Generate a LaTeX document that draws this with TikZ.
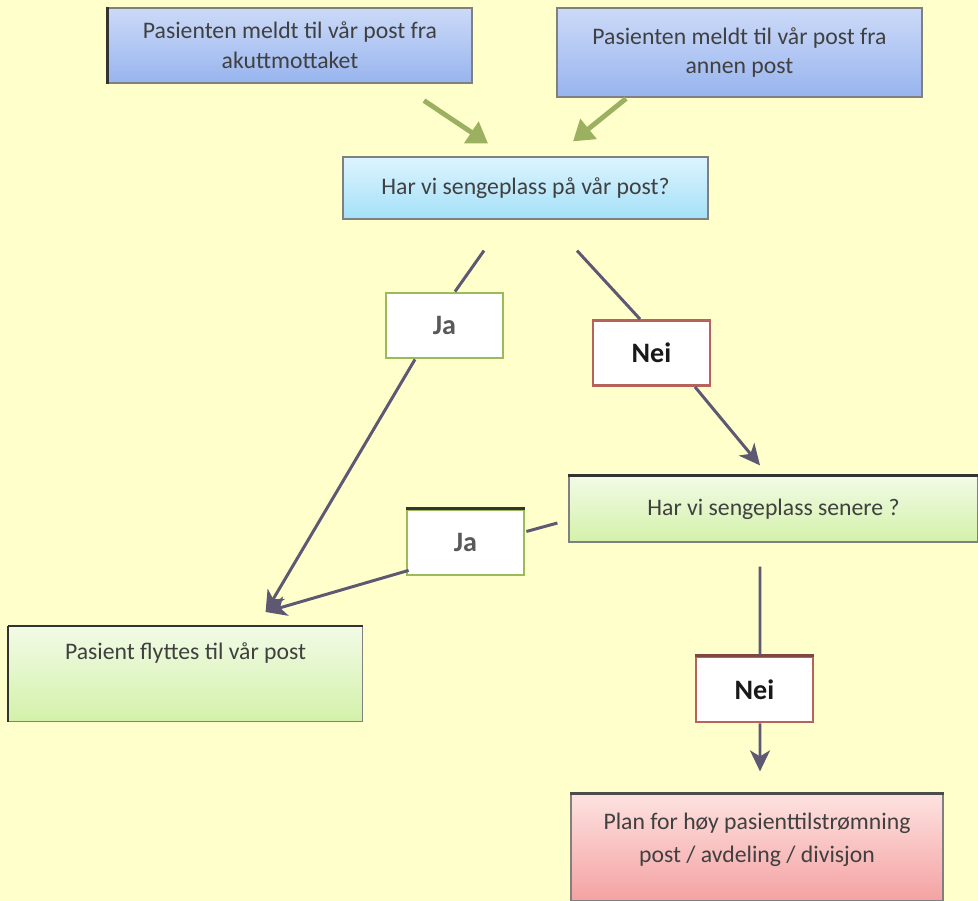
\documentclass[tikz,border=0pt]{standalone}
\usepackage{fontspec}
\setmainfont{Carlito}
\usetikzlibrary{positioning, arrows.meta, calc}
\definecolor{paper}{HTML}{FFFFCC}
\definecolor{blueTop}{HTML}{CCDAF8}
\definecolor{blueBot}{HTML}{98B4EE}
\definecolor{skyTop}{HTML}{DDF4FF}
\definecolor{skyBot}{HTML}{A4E0F7}
\definecolor{leafTop}{HTML}{F2FBE6}
\definecolor{leafBot}{HTML}{D3F1AA}
\definecolor{roseTop}{HTML}{FDE2E0}
\definecolor{roseBot}{HTML}{F4A2A2}
\definecolor{olive}{HTML}{9BB160}
\definecolor{jaGreen}{HTML}{9BBB59}
\definecolor{neiRed}{HTML}{B8625C}
\definecolor{slate}{HTML}{5E5873}

\begin{document}
\begin{tikzpicture}[x=0.02cm, y=-0.02cm,
    box/.style={draw=black!50, line width=0.7pt, align=center, inner sep=0pt,
        font=\fontsize{13.5}{17}\selectfont, text=black!75},
    answer/.style={draw, line width=1.6pt, fill=white, minimum width=2.34cm,
        minimum height=1.3cm, font=\fontsize{16}{18}\bfseries\selectfont},
    feed/.style={olive, line width=2.8pt, -{Triangle[length=0.4cm, width=0.5cm]}},
    link/.style={slate, line width=1.7pt},
    flow/.style={link, -{Stealth[length=0.42cm, width=0.4cm, inset=0.12cm]}},
    edge/.style={black!80, line width=1.6pt}]
    \fill[paper] (0,0) rectangle (978,901);
    \useasboundingbox (0,0) rectangle (978,901);

    % incoming patients
    \node[box, top color=blueTop, bottom color=blueBot, minimum width=7.28cm,
        minimum height=1.5cm] (akutt) at (290,45.5)
        {Pasienten meldt til vår post fra\\akuttmottaket};
    \node[box, top color=blueTop, bottom color=blueBot, minimum width=7.3cm,
        minimum height=1.78cm] (annen) at (739.5,52.5)
        {Pasienten meldt til vår post fra\\annen post};

    % questions
    \node[box, top color=skyTop, bottom color=skyBot, minimum width=7.3cm,
        minimum height=1.24cm] (naa) at (525.5,188) {Har vi sengeplass på vår post?};
    \node[box, top color=leafTop, bottom color=leafBot, minimum width=8.18cm,
        minimum height=1.32cm] (senere) at (773.5,509) {Har vi sengeplass senere ?};

    % answers
    \node[answer, draw=jaGreen, text=black!65] (ja1) at (444.5,325.5) {Ja};
    \node[answer, draw=neiRed, text=black!90] (nei1) at (651.5,353) {Nei};
    \node[answer, draw=jaGreen, text=black!65] (ja2) at (465.5,542.5) {Ja};
    \node[answer, draw=neiRed, text=black!90] (nei2) at (754.5,689.5) {Nei};

    % outcomes
    \node[box, top color=leafTop, bottom color=leafBot, anchor=north west,
        minimum width=7.08cm, inner ysep=0.32cm, text depth=0.92cm]
        (flytt) at (8,626) {Pasient flyttes til vår post};
    \node[box, top color=roseTop, bottom color=roseBot, minimum width=7.44cm,
        minimum height=2.14cm] (plan) at (757,847.5)
        {Plan for høy pasienttilstrømning\\[2pt]post / avdeling / divisjon\\[-6pt]};

    % darker edges
    \draw[edge] (akutt.north west) -- (akutt.south west);
    \draw[edge] (senere.north west) -- (senere.north east);
    \draw[edge] (ja2.north west) -- (ja2.north east);
    \draw[edge] (flytt.north west) -- (flytt.north east);
    \draw[edge] (flytt.north west) -- (flytt.south west);
    \draw[edge, neiRed!70!black] (nei2.north west) -- (nei2.north east);
    \draw[edge, black!70] (plan.north west) -- (plan.north east);

    % connectors
    \draw[feed] ($(akutt.south)+(134,17)$) -- ($(naa.north)+(-37.5,-13)$);
    \draw[feed] ($(annen.south)+(-113.5,1)$) -- ($(naa.north)+(47.5,-15)$);
    \draw[link] ($(naa.south)+(-41.5,31)$) -- ($(ja1.north)+(10.5,0)$);
    \draw[link] ($(naa.south)+(51.5,31)$) -- ($(nei1.north)+(-11.5,0)$);
    \draw[flow] ($(ja1.south)+(-29.5,0)$) -- ($(flytt.north)+(80,-14)$);
    \draw[flow] ($(nei1.south)+(43.5,0)$) -- ($(senere.north)+(-13.5,-10)$);
    \draw[link] ($(ja2.east)+(1,-11)$) -- ($(senere.west)+(-11,14)$);
    \draw[flow] ($(ja2.south west)+(3,-6)$) -- ($(flytt.north)+(80,-14)$);
    \draw[link] ($(senere.south)+(-13.5,24)$) -- ($(nei2.north)+(5.5,0)$);
    \draw[flow] ($(nei2.south)+(5.5,0)$) -- ($(plan.north)+(3,-22)$);
\end{tikzpicture}
\end{document}
